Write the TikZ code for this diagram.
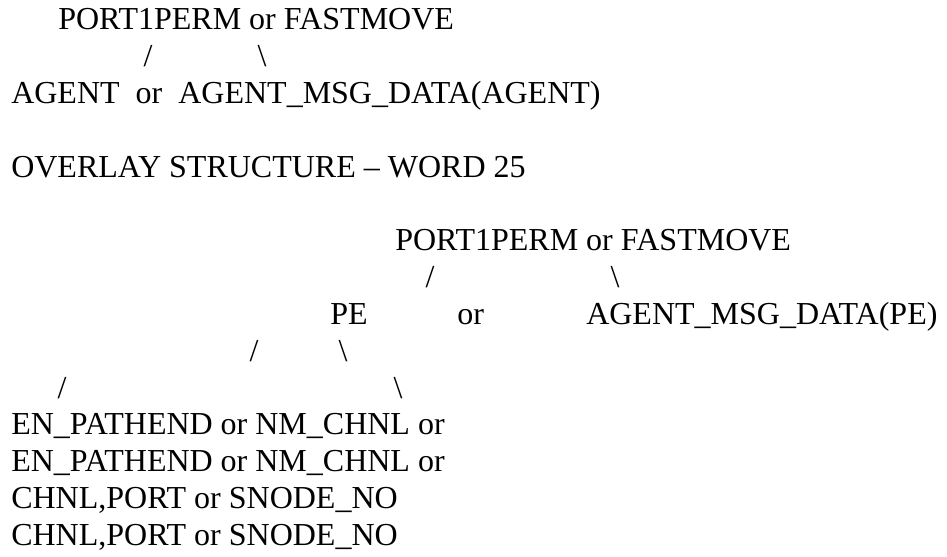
\documentclass[tikz,border=0pt]{standalone}
\usepackage{fontspec}
\setmainfont{Liberation Serif}

\begin{document}
\begin{tikzpicture}[x=0.75pt,y=-0.75pt,
		txt/.style={anchor=base west,inner sep=0pt,font=\fontsize{24}{28}\selectfont},
		bar/.style={anchor=base,inner sep=0pt,font=\fontsize{24}{28}\selectfont}]
		\useasboundingbox (0,0) rectangle (947,557);
		% word 24
		\node[txt] (top_a) at (58,29) {PORT1PERM or FASTMOVE};
		\node[bar] (left_a) at (148,66) {/};
		\node[bar] (right_a) at (262,66) {\textbackslash};
		\node[txt] (agent) at (11,103) {AGENT\ \ or\ \ AGENT\_MSG\_DATA(AGENT)};
		\node[txt] (title) at (11,177) {OVERLAY STRUCTURE – WORD 25};
		% word 25
		\node[txt] (top_b) at (395,250.4) {PORT1PERM or FASTMOVE};
		\node[bar] (left_b) at (430,287.3) {/};
		\node[bar] (right_b) at (615,287.3) {\textbackslash};
		\node[txt] (pe) at (330,324.2) {PE};
		\node[txt] (pe_or) at (457,324.2) {or};
		\node[txt] (pe_msg) at (586,324.2) {AGENT\_MSG\_DATA(PE)};
		\node[bar] (left_c) at (254,361.1) {/};
		\node[bar] (right_c) at (343,361.1) {\textbackslash};
		\node[bar] (left_d) at (62,398) {/};
		\node[bar] (right_d) at (398,398) {\textbackslash};
		\node[txt] (en_a) at (11,434.9) {EN\_PATHEND or NM\_CHNL or};
		\node[txt] (en_b) at (11,471.8) {EN\_PATHEND or NM\_CHNL or};
		\node[txt] (chnl_a) at (11,508.7) {CHNL,PORT or SNODE\_NO};
		\node[txt] (chnl_b) at (11,545.6) {CHNL,PORT or SNODE\_NO};
	\end{tikzpicture}
\end{document}
